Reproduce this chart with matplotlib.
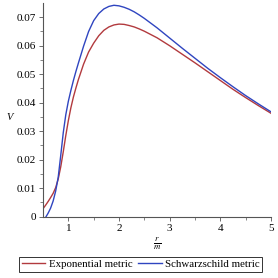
import matplotlib
matplotlib.use("Agg")
import matplotlib.pyplot as plt

# r/m values and potentials
r_exp = [0.50, 0.55, 0.60, 0.65, 0.70, 0.75, 0.80, 0.85, 0.90, 0.95, 1.00, 1.05, 1.10, 1.15, 1.20,
         1.30, 1.40, 1.50, 1.60, 1.70, 1.80, 1.90, 2.00, 2.10, 2.20, 2.30, 2.40, 2.50, 2.75, 3.00,
         3.25, 3.50, 3.75, 4.00, 4.25, 4.50, 4.75, 5.00]
v_exp = [0.0028, 0.0040, 0.0053, 0.0067, 0.0082, 0.0102, 0.0132, 0.0175, 0.0228, 0.0285, 0.0337,
         0.0382, 0.0420, 0.0452, 0.0482, 0.0535, 0.0578, 0.0609, 0.0635, 0.0654, 0.0666, 0.0673,
         0.0676, 0.0675, 0.0671, 0.0666, 0.0659, 0.0651, 0.0628, 0.0600, 0.0570, 0.0540, 0.0509,
         0.0478, 0.0447, 0.0418, 0.0390, 0.0363]

r_sch = [0.56, 0.60, 0.65, 0.70, 0.75, 0.80, 0.85, 0.90, 0.95, 1.00, 1.05, 1.10, 1.15, 1.20, 1.30,
         1.40, 1.50, 1.60, 1.70, 1.80, 1.90, 2.00, 2.10, 2.20, 2.30, 2.40, 2.50, 2.75, 3.00, 3.25,
         3.50, 3.75, 4.00, 4.25, 4.50, 4.75, 5.00]
v_sch = [0.0000, 0.0012, 0.0030, 0.0055, 0.0090, 0.0138, 0.0215, 0.0295, 0.0358, 0.0405, 0.0443,
         0.0478, 0.0510, 0.0540, 0.0598, 0.0650, 0.0688, 0.0713, 0.0729, 0.0738, 0.0742, 0.0740,
         0.0735, 0.0728, 0.0719, 0.0708, 0.0696, 0.0663, 0.0627, 0.0591, 0.0556, 0.0521, 0.0488,
         0.0456, 0.0425, 0.0396, 0.0368]

labels = ["Exponential metric", "Schwarzschild metric"]
x_ticks = [1, 2, 3, 4, 5]
y_ticks = [0, 0.01, 0.02, 0.03, 0.04, 0.05, 0.06, 0.07]
y_ticklabels = ["0", "0.01", "0.02", "0.03", "0.04", "0.05", "0.06", "0.07"]

plt.rcParams['font.family'] = ['Liberation Serif', 'DejaVu Serif']
plt.rcParams['mathtext.fontset'] = 'stix'

fig = plt.figure(figsize=(2.78, 2.78), dpi=100)
ax = fig.add_axes([43/278, 1 - 216.7/278, (271 - 43)/278, (216.7 - 3)/278])

red = "#b23a3e"
blue = "#2f45c0"
ax.plot(r_exp, v_exp, color=red, lw=1.0, label=labels[0])
ax.plot(r_sch, v_sch, color=blue, lw=1.0, label=labels[1])

ax.set_xlim(0.5, 5.0)
ax.set_ylim(0, 0.075)
ax.set_xticks(x_ticks)
ax.set_xticks([1.5, 2.5, 3.5, 4.5], minor=True)
ax.set_yticks(y_ticks)
ax.set_yticklabels(y_ticklabels)
ax.set_yticks([0.005, 0.015, 0.025, 0.035, 0.045, 0.055, 0.065], minor=True)
for s in ["top", "right"]:
    ax.spines[s].set_visible(False)
for s in ["left", "bottom"]:
    ax.spines[s].set_color("#555555")
    ax.spines[s].set_linewidth(0.8)
ax.tick_params(axis="both", which="major", labelsize=8, length=3, width=0.6, color="#555555", pad=2)
ax.tick_params(axis="both", which="minor", length=2, width=0.5, color="#555555")

fig.text(10/278, 1 - 117/278, "V", fontsize=7.5, style="italic", ha="center", va="center")
fig.text(157/278, 1 - 244/278, r"$\frac{r}{m}$", fontsize=9, ha="center", va="center")

leg = fig.legend(loc="center", bbox_to_anchor=(140.5/278, 1 - 264.5/278), ncol=2, fontsize=7.8,
                 frameon=True, fancybox=False, edgecolor="black", handlelength=2.2,
                 handletextpad=0.3, columnspacing=0.5, borderpad=0.25, borderaxespad=0)
leg.get_frame().set_linewidth(0.7)

fig.savefig("out.png", dpi=100)
